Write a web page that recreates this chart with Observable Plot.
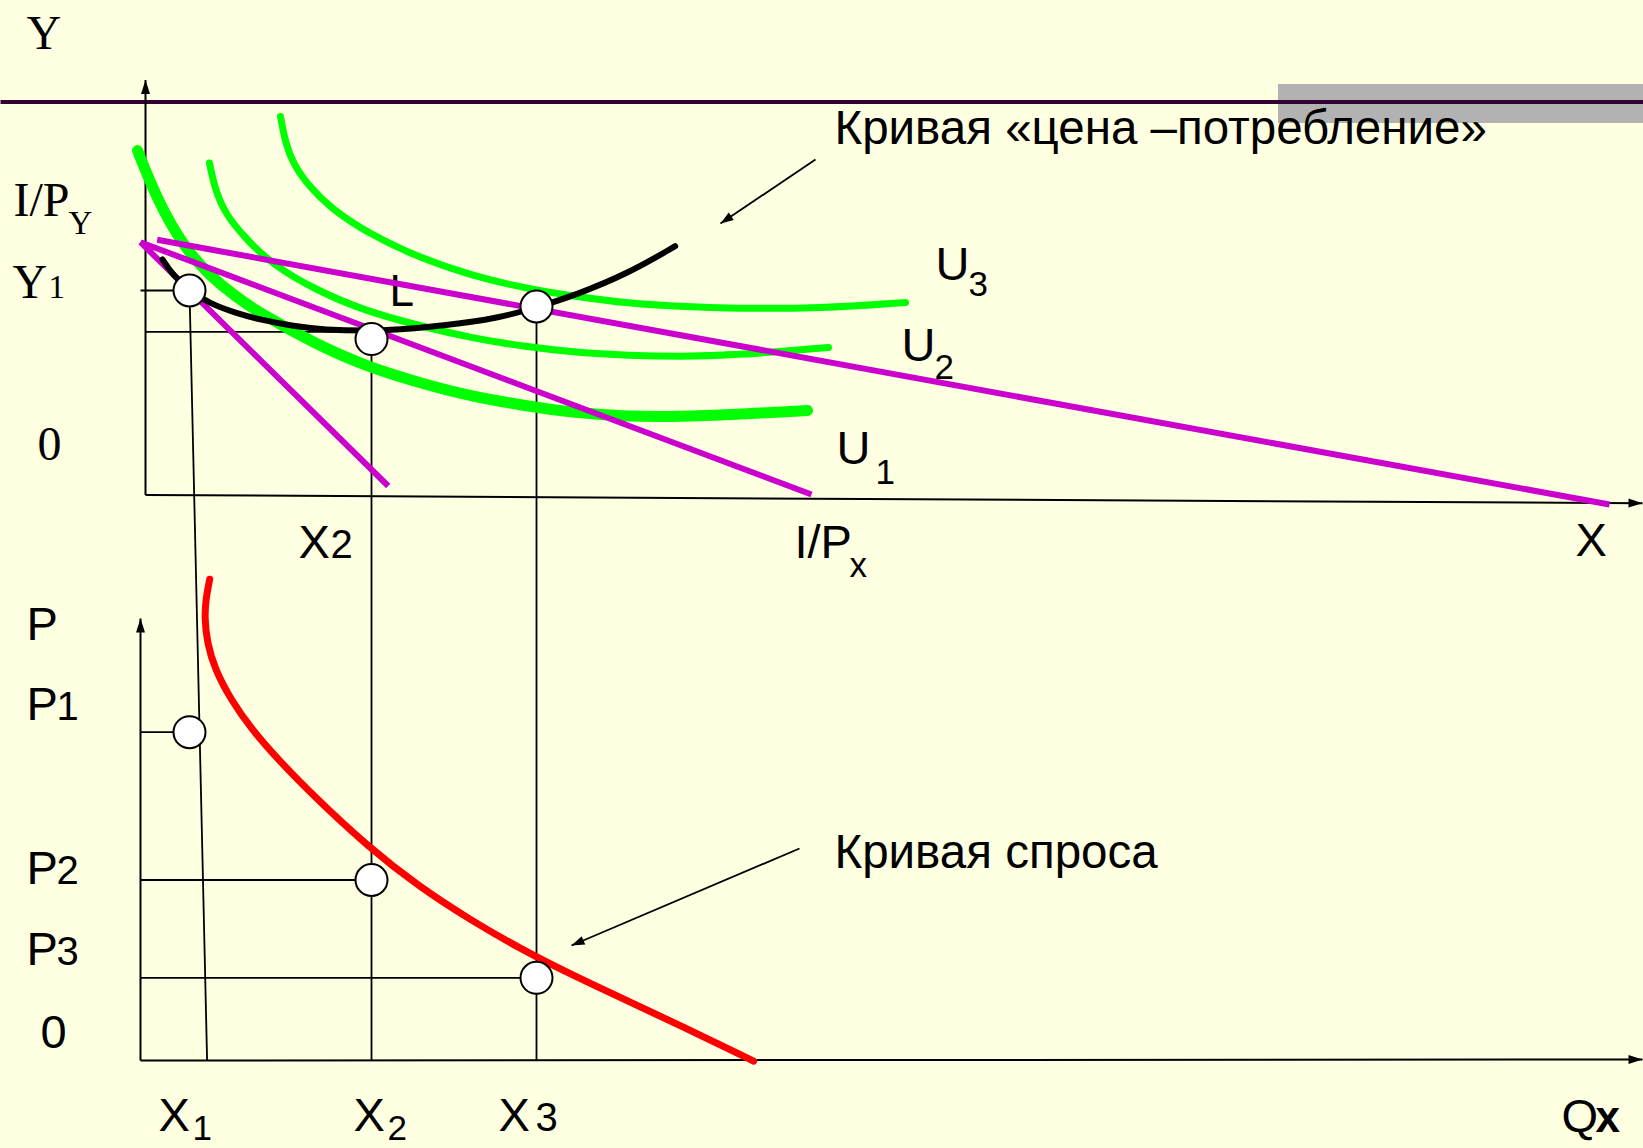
<!DOCTYPE html>
<html><head><meta charset="utf-8">
<script src="https://cdn.jsdelivr.net/npm/d3@7"></script>
<script src="https://cdn.jsdelivr.net/npm/@observablehq/plot@0.6"></script>
<style>
html,body{margin:0;padding:0;background:#FFFFE1;overflow:hidden}
#chart svg{display:block}
</style></head><body><div id="chart"></div>
<script>
// Shared horizontal axis: quantity of good X. Upper panel (Y vs X) is placed above the lower panel (P vs Qx)
const TOP = 56.55; // vertical offset of the upper panel's origin in the shared vertical scale

// ---- Upper panel (values relative to its own origin) ----
const indifferenceU1 = [[-0.8,34.45],[1.2,29.45],[3.8,24.85],[6.4,21.95],[9,19.85],[11.65,18.05],[16.9,15.15],[22.1,12.85],[27.3,11.25],[32.6,9.85],[37.8,8.95],[43,8.2],[48.3,7.85],[53.5,7.85],[58.7,8.05],[66.2,8.45]];
const indifferenceU2 = [[6.4,33.2],[6.95,30.55],[8,28.05],[10.1,25.55],[12.7,23.05],[16.9,20.55],[22.1,18.35],[27.3,16.95],[32.6,15.7],[37.8,14.85],[43,14.25],[48.3,13.95],[53.5,13.85],[58.7,13.95],[68.3,14.75]];
const indifferenceU3 = [[13.5,37.85],[14,35.15],[14.8,33.05],[16.36,30.85],[18.45,28.75],[22.1,26.25],[27.3,23.75],[32.6,21.95],[37.8,20.7],[43,19.85],[48.3,19.15],[53.5,18.85],[58.7,18.65],[67.5,18.65],[76,19.25]];
const priceConsumption = [[1.7,23.55],[2.76,21.95],[4.4,20.45],[6.4,19.15],[9,18.2],[11.65,17.49],[14.8,16.88],[17.9,16.52],[22.1,16.41],[25.25,16.52],[29.96,16.95],[35.2,17.66],[39.1,18.75],[43,19.99],[48.26,22.15],[52.97,24.88]];
const budgetLines = [
  {x1:-0.5, y1:25.28, x2:24.27, y2:0.9},
  {x1:-0.5, y1:25.28, x2:66.6,  y2:0.05},
  {x1:1.17, y1:25.52, x2:146.4, y2:-0.95}
];
const optimaX = [4.4, 22.6, 39.1];
const optimaY = [20.45, 15.59, 18.85];
const topGuides = [
  {x1:-0.5, y1:20.45, x2:4.4,  y2:20.45},
  {x1:0,    y1:16.31, x2:22.6, y2:16.31}
];
const topAxes = [
  {x1:0, y1:0, x2:0,     y2:41.5},
  {x1:0, y1:0, x2:149.7, y2:-0.82}
];
const banner = [{x1:113.3, x2:149.8, y1:37.15, y2:41.05}];
const headerRule = [{x1:-14.5, y1:39.29, x2:149.8, y2:39.29}];

// ---- Lower panel ----
const demand = [[6.42,48.13],[6.05,46.25],[5.9,44.38],[6.16,41.75],[6.94,39.13],[8.51,36.13],[10.6,33.13],[13.22,30.13],[16.88,26.38],[22.11,21.5],[27.34,17.38],[32.57,14],[37.8,11],[43.03,8.38],[48.26,5.94],[53.49,3.5],[60.81,-0.06]];
const pricesP = [32.83, 18.05, 8.27];
const dropBottomX = [6.16, 22.6, 39.1];
const bottomAxes = [
  {x1:-0.5, y1:0, x2:-0.5,  y2:44.2},
  {x1:-0.5, y1:0, x2:149.7, y2:0.1}
];

// annotation arrows (shared scale)
const pointers = [
  {x1:67,   y1:33.55+TOP, x2:57.5, y2:27.15+TOP},
  {x1:65.4, y1:21.2,      x2:42.6, y2:11.5}
];

// ---- Labels ----
const serifLabels = [
  {text:"Y",   x:-11.9, y:44.65+TOP},
  {text:"I/P", x:-13.2, y:27.95+TOP},
  {text:"Y",   x:-13.3, y:19.75+TOP},
  {text:"0",   x:-10.8, y:3.55+TOP}
];
const serifSubs = [
  {text:"Y", x:-7.7, y:26.15+TOP},
  {text:"1", x:-9.7, y:19.75+TOP}
];
const sansLabels = [
  {text:"X",   x:15.3,  y:-6.25+TOP},
  {text:"I/P", x:64.9,  y:-6.25+TOP},
  {text:"X",   x:143,   y:-6.05+TOP},
  {text:"U",   x:79.0,  y:21.55+TOP},
  {text:"U",   x:75.6,  y:13.45+TOP},
  {text:"U",   x:69.1,  y:3.15+TOP},
  {text:"P",   x:-11.9, y:42.1},
  {text:"P",   x:-11.9, y:34.1},
  {text:"P",   x:-11.9, y:17.7},
  {text:"P",   x:-11.9, y:9.55},
  {text:"0",   x:-10.5, y:1.3},
  {text:"X",   x:1.3,   y:-7},
  {text:"X",   x:20.8,  y:-7},
  {text:"X",   x:35.3,  y:-7},
  {text:"Q",   x:141.6, y:-7.1}
];
const sansDigits = [
  {text:"2", x:18.5,  y:-6.25+TOP},
  {text:"1", x:-8.9,  y:34.1},
  {text:"2", x:-8.9,  y:17.7},
  {text:"3", x:-8.9,  y:9.55},
  {text:"3", x:39,    y:-7}
];
const sansSubs = [
  {text:"x", x:70.4, y:-8.2+TOP},
  {text:"3", x:82.3, y:19.95+TOP},
  {text:"2", x:78.9, y:11.65+TOP},
  {text:"1", x:73.0, y:1.15+TOP},
  {text:"1", x:4.7,  y:-7.95},
  {text:"2", x:24.2, y:-7.95}
];
const boldLabels = [{text:"x", x:145.0, y:-7.1}];
const markerL = [{text:"L", x:24.4, y:18.9+TOP}];
const captions = [
  {text:"Кривая «цена –потребление»", x:68.9, y:35.1+TOP},
  {text:"Кривая спроса",              x:68.9, y:19.3}
];

// ---- derived ----
const XD = [-14.5, 149.8], YD = [-8.8, 106];
const W = 1643, H = 1148;
const KX = W/(XD[1]-XD[0]), KY = H/(YD[1]-YD[0]);
const shiftTop = segs => segs.map(s => ({x1:s.x1, y1:s.y1+TOP, x2:s.x2, y2:s.y2+TOP}));
const topPts = arr => arr.map(([x,y]) => ({x, y:y+TOP}));
const pts = arr => arr.map(([x,y]) => ({x, y}));

const topCircles = optimaX.map((x,i) => ({x, y:optimaY[i]+TOP}));
const bottomCircles = optimaX.map((x,i) => ({x, y:pricesP[i]}));
const dropLines = optimaX.map((x,i) => ({x1:x, y1:optimaY[i]+TOP, x2:dropBottomX[i], y2:0}));
const priceLines = optimaX.map((x,i) => ({x1:-0.5, y1:pricesP[i], x2:x, y2:pricesP[i]}));
const axes = [...shiftTop(topAxes), ...bottomAxes];

function headSymbol(a, len, halfW){
  const dx = (a.x2-a.x1)*KX, dy = -(a.y2-a.y1)*KY;
  const n = Math.hypot(dx,dy), ux = dx/n, uy = dy/n;
  return {draw(ctx){
    ctx.moveTo(0,0);
    ctx.lineTo(-ux*len - uy*halfW, -uy*len + ux*halfW);
    ctx.lineTo(-ux*len + uy*halfW, -uy*len - ux*halfW);
    ctx.closePath();
  }};
}
const heads = [
  ...axes.map(a => Plot.dot([a], {x:"x2", y:"y2", r:5, symbol:headSymbol(a,14,4.5), fill:"black", stroke:"none"})),
  ...pointers.map(a => Plot.dot([a], {x:"x2", y:"y2", r:5, symbol:headSymbol(a,13,4.5), fill:"black", stroke:"none"}))
];

const SANS = "Liberation Sans, Arial, sans-serif";
const SERIF = "Liberation Serif, Times New Roman, serif";
const txt = (data, size, family, extra={}) => Plot.text(data, {x:"x", y:"y", text:"text", textAnchor:"start", lineAnchor:"bottom", fontSize:size, fontFamily:family, fill:"black", ...extra});

const chart = Plot.plot({
  width: W, height: H,
  margin: 0,
  x: {domain: XD, axis: null},
  y: {domain: YD, axis: null},
  style: {background:"#FFFFE1", overflow:"visible"},
  marks: [
    Plot.rect(shiftTop(banner), {x1:"x1", x2:"x2", y1:"y1", y2:"y2", fill:"#B2B2B2"}),
    Plot.link(shiftTop(headerRule), {x1:"x1", y1:"y1", x2:"x2", y2:"y2", stroke:"#330033", strokeWidth:4}),
    Plot.link(axes, {x1:"x1", y1:"y1", x2:"x2", y2:"y2", stroke:"black", strokeWidth:2}),
    Plot.link(dropLines, {x1:"x1", y1:"y1", x2:"x2", y2:"y2", stroke:"black", strokeWidth:1.8}),
    Plot.link(shiftTop(topGuides), {x1:"x1", y1:"y1", x2:"x2", y2:"y2", stroke:"black", strokeWidth:1.8}),
    Plot.link(priceLines, {x1:"x1", y1:"y1", x2:"x2", y2:"y2", stroke:"black", strokeWidth:1.8}),
    Plot.line(topPts(indifferenceU3), {x:"x", y:"y", stroke:"#00FF00", strokeWidth:7, curve:"basis"}),
    Plot.line(topPts(indifferenceU2), {x:"x", y:"y", stroke:"#00FF00", strokeWidth:7, curve:"basis"}),
    Plot.line(topPts(indifferenceU1), {x:"x", y:"y", stroke:"#00FF00", strokeWidth:11, curve:"basis"}),
    txt(markerL, 44, SANS),
    Plot.link(shiftTop(budgetLines), {x1:"x1", y1:"y1", x2:"x2", y2:"y2", stroke:"#CC00CC", strokeWidth:6}),
    Plot.line(topPts(priceConsumption), {x:"x", y:"y", stroke:"black", strokeWidth:6, curve:"basis"}),
    Plot.line(pts(demand), {x:"x", y:"y", stroke:"#FF0000", strokeWidth:7, curve:"basis"}),
    Plot.dot([...topCircles, ...bottomCircles], {x:"x", y:"y", r:16, fill:"white", stroke:"black", strokeWidth:2}),
    Plot.link(pointers, {x1:"x1", y1:"y1", x2:"x2", y2:"y2", stroke:"black", strokeWidth:1.8}),
    ...heads,
    txt(serifLabels, 48, SERIF),
    txt(serifSubs, 33, SERIF),
    txt(sansLabels, 47, SANS),
    txt(sansDigits, 40, SANS),
    txt(sansSubs, 35, SANS),
    txt(boldLabels, 44, SANS, {fontWeight:"bold"}),
    txt(captions, 47.5, SANS)
  ]
});
document.getElementById("chart").appendChild(chart);
</script></body></html>
